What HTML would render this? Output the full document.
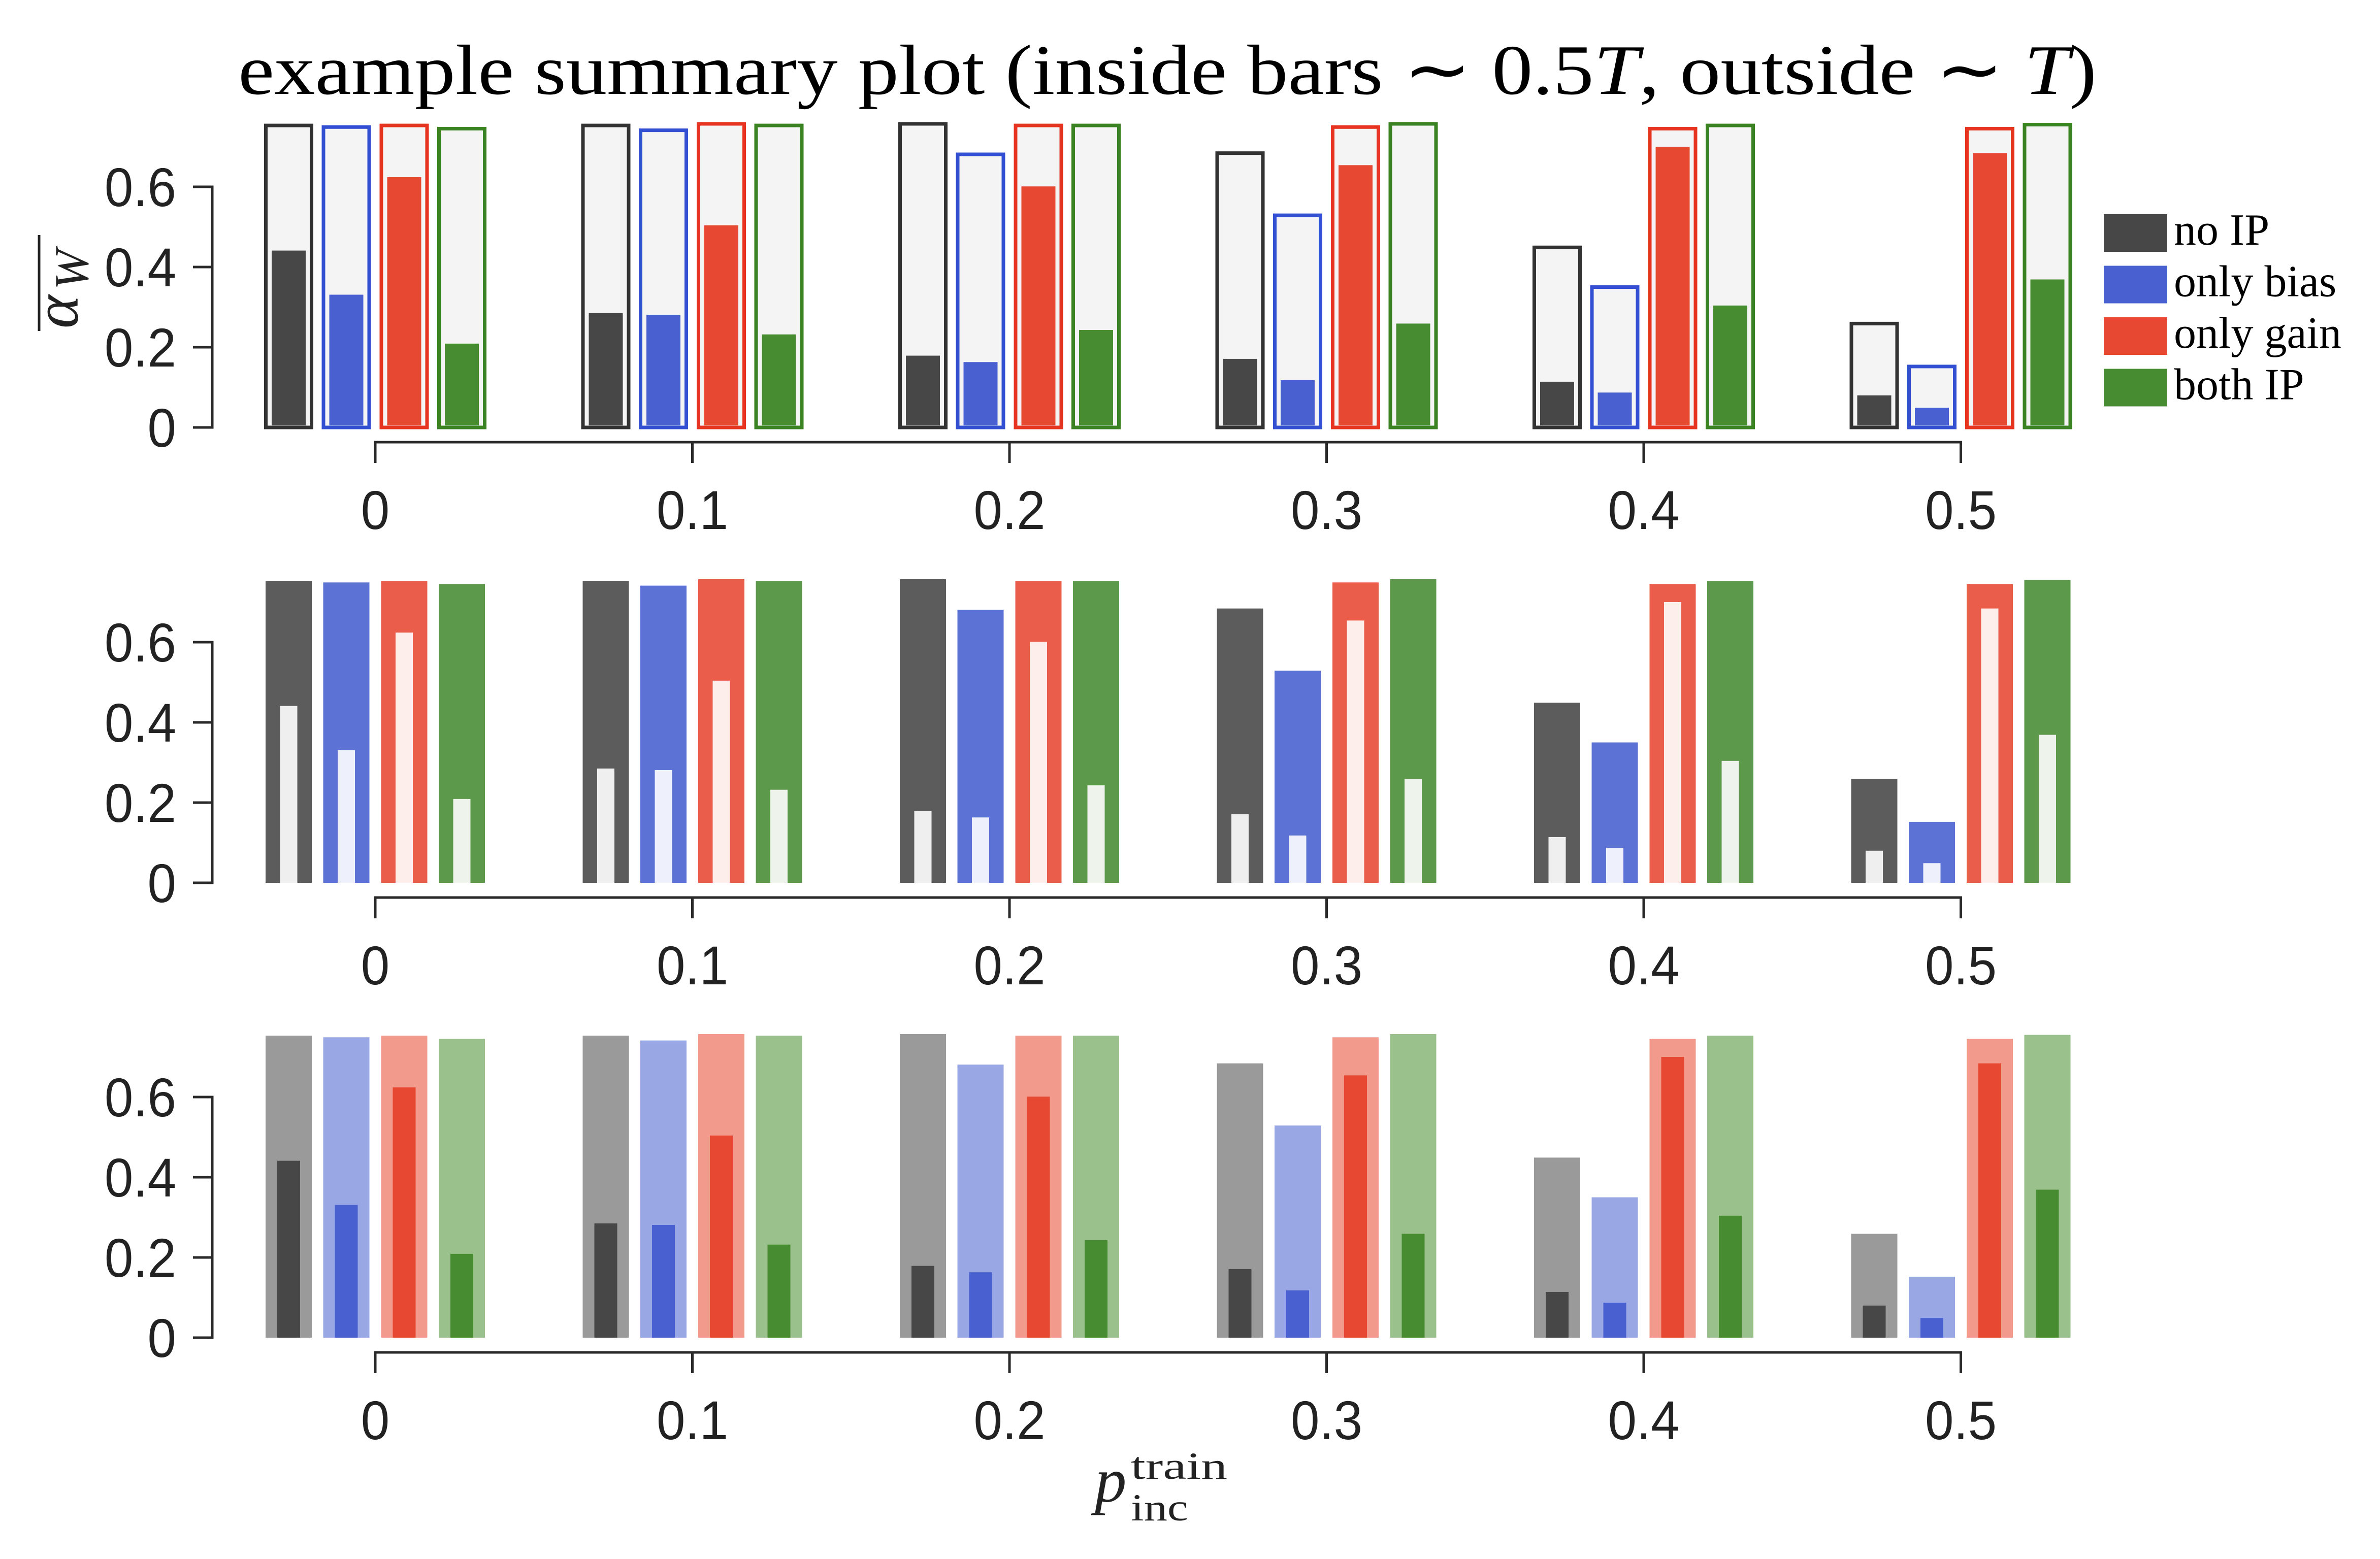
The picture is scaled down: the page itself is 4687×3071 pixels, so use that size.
<!DOCTYPE html>
<html><head><meta charset="utf-8"><style>
html,body{margin:0;padding:0;background:#fff;}
svg{display:block;}
</style></head><body>
<svg id="chart" width="4687" height="3071" viewBox="0 0 4687 3071" xmlns="http://www.w3.org/2000/svg">
<rect width="4687" height="3071" fill="#fff"/>
<text x="469" y="185" font-family="Liberation Serif, serif" font-size="140" fill="#000" textLength="3660" lengthAdjust="spacingAndGlyphs">example summary plot (inside bars ∼ 0.5<tspan font-style="italic">T</tspan>, outside ∼ <tspan font-style="italic">T</tspan>)</text>
<g id="panels"></g>
<g transform="translate(153,647) rotate(-90)">
<text x="0" y="0" font-family="Liberation Serif, serif" font-style="italic" font-size="125" fill="#222">α</text>
<text x="76" y="20" font-family="Liberation Serif, serif" font-style="italic" font-size="95" fill="#222">W</text>
<line x1="-5" y1="-76" x2="184" y2="-76" stroke="#222" stroke-width="5"/>
</g>
<g font-family="Liberation Serif, serif" fill="#222">
<text x="2156" y="2958" font-style="italic" font-size="125">p</text>
<text x="2227" y="2913" font-size="75" textLength="190" lengthAdjust="spacingAndGlyphs">train</text>
<text x="2227" y="2995" font-size="75" textLength="113" lengthAdjust="spacingAndGlyphs">inc</text>
</g>
<g id="legend"></g>
</svg>
<script>
const categories = [0, 0.1, 0.2, 0.3, 0.4, 0.5];
const seriesNames = ["no IP", "only bias", "only gain", "both IP"];
const outerNoIP = [0.753, 0.753, 0.757, 0.684, 0.449, 0.259];
const outerBias = [0.749, 0.741, 0.681, 0.529, 0.350, 0.152];
const outerGain = [0.753, 0.757, 0.753, 0.749, 0.745, 0.745];
const outerBoth = [0.745, 0.753, 0.753, 0.757, 0.753, 0.755];
const innerNoIP = [0.441, 0.285, 0.179, 0.171, 0.114, 0.080];
const innerBias = [0.331, 0.281, 0.163, 0.118, 0.087, 0.049];
const innerGain = [0.624, 0.504, 0.601, 0.654, 0.700, 0.684];
const innerBoth = [0.209, 0.232, 0.243, 0.259, 0.304, 0.369];
const yTicks = [0, 0.2, 0.4, 0.6];
const xTickLabels = ["0", "0.1", "0.2", "0.3", "0.4", "0.5"];

const NS = "http://www.w3.org/2000/svg";
const outers = [outerNoIP, outerBias, outerGain, outerBoth];
const inners = [innerNoIP, innerBias, innerGain, innerBoth];
const base = ["#474747", "#4960d0", "#e64832", "#488c31"];
const stroke1 = ["#333333", "#3350d2", "#e63420", "#3a8222"];
const outer2 = ["#5c5c5c", "#5c73d5", "#ea5d4a", "#5c994a"];
const inner2 = ["#efefef", "#eef1fb", "#fdeeec", "#eef4ec"];
const outer3 = ["#9a9a9a", "#99a7e4", "#f29a8c", "#9ac08c"];
const panelY0 = [842, 1739, 2635];
const yScalePx = 790;
const xOrigin = 739, xUnit = 6245;
const offsets = [-170.5, -57, 57, 170.5];
function xPos(v){ return xOrigin + v * xUnit; }
function yPos(p, v){ return panelY0[p] - v * yScalePx; }
function mk(tag, attrs, parent){ const e = document.createElementNS(NS, tag); for (const k in attrs) e.setAttribute(k, attrs[k]); parent.appendChild(e); return e; }
function labelWidth(s){ let w = 0; for (const ch of s) w += (ch === "." ? 0.278 : 0.556); return w * 108 * 0.94; }

const panels = document.getElementById("panels");
for (let p = 0; p < 3; p++) {
  const g = mk("g", {}, panels);
  
  
  const y0 = panelY0[p];
  const ya = mk("g", {}, g);
  
  
  mk("line", {x1: 418, y1: yPos(p, 0) + 2.5, x2: 418, y2: yPos(p, 0.6) - 2.5, stroke: "#2a2a2a", "stroke-width": 5}, ya);
  yTicks.forEach(t => {
    mk("line", {x1: 380, y1: yPos(p, t), x2: 418, y2: yPos(p, t), stroke: "#2a2a2a", "stroke-width": 5}, ya);
    const s = String(t);
    const tx = mk("text", {x: 347, y: yPos(p, t) + 38, "text-anchor": "end", "font-family": "Liberation Sans, sans-serif", "font-size": 108, fill: "#222", textLength: labelWidth(s), lengthAdjust: "spacingAndGlyphs"}, ya);
    tx.textContent = s;
    
    
  });
  const xa = mk("g", {}, g);
  
  
  const ay = y0 + 29;
  mk("line", {x1: xPos(0) - 2.5, y1: ay, x2: xPos(0.5) + 2.5, y2: ay, stroke: "#2a2a2a", "stroke-width": 5}, xa);
  categories.forEach((c, i) => {
    mk("line", {x1: xPos(c), y1: ay, x2: xPos(c), y2: ay + 41, stroke: "#2a2a2a", "stroke-width": 5}, xa);
    const s = xTickLabels[i];
    const tx = mk("text", {x: xPos(c), y: y0 + 200, "text-anchor": "middle", "font-family": "Liberation Sans, sans-serif", "font-size": 108, fill: "#222", textLength: labelWidth(s), lengthAdjust: "spacingAndGlyphs"}, xa);
    tx.textContent = s;
    
    
  });
  categories.forEach((c, i) => {
    for (let s = 0; s < 4; s++) {
      const cx = xPos(c) + offsets[s];
      const ov = outers[s][i], iv = inners[s][i];
      let o, inn;
      if (p === 0) {
        o = mk("rect", {x: cx - 45, y: yPos(p, ov), width: 90, height: ov * yScalePx, fill: "#f4f4f4", stroke: stroke1[s], "stroke-width": 7}, g);
        inn = mk("rect", {x: cx - 33.5, y: yPos(p, iv), width: 67, height: iv * yScalePx - 4, fill: base[s]}, g);
      } else if (p === 1) {
        o = mk("rect", {x: cx - 45.5, y: yPos(p, ov), width: 91, height: ov * yScalePx, fill: outer2[s]}, g);
        inn = mk("rect", {x: cx - 17, y: yPos(p, iv), width: 34, height: iv * yScalePx, fill: inner2[s]}, g);
      } else {
        o = mk("rect", {x: cx - 45.5, y: yPos(p, ov), width: 91, height: ov * yScalePx, fill: outer3[s]}, g);
        inn = mk("rect", {x: cx - 22.5, y: yPos(p, iv), width: 45, height: iv * yScalePx, fill: base[s]}, g);
      }
      
      
      
      
    }
  });
}
const legend = document.getElementById("legend");
seriesNames.forEach((n, s) => {
  const y = 422 + s * 101.5;
  const r = mk("rect", {x: 4143, y: y, width: 125, height: 74, fill: base[s]}, legend);
  
  
  const t = mk("text", {x: 4281, y: y + 60, "font-family": "Liberation Serif, serif", "font-size": 88, fill: "#000"}, legend);
  t.textContent = n;
  
  
});
</script>
</body></html>
